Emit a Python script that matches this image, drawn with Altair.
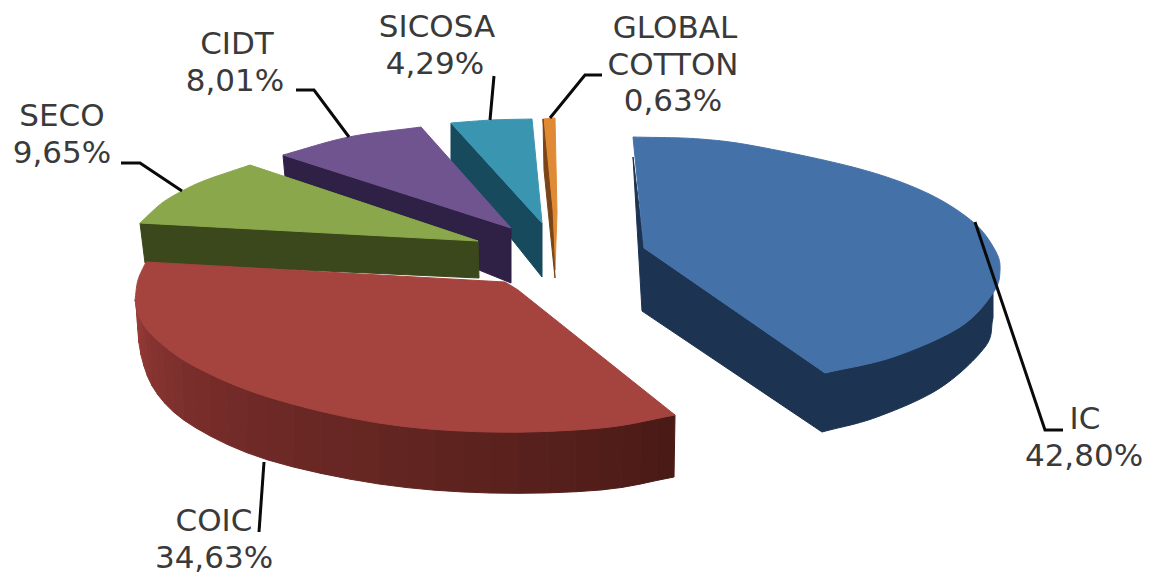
import altair as alt
import numpy as np
import pandas as pd

# ---- chart values ----
names = ["IC", "COIC", "SECO", "CIDT", "SICOSA", "GLOBAL COTTON"]
shares = [42.80, 34.63, 9.65, 8.01, 4.29, 0.63]

# ---- styles ----
TOP = {"IC": "#4472a8", "COIC": "#a5433f", "SECO": "#8aa84b", "CIDT": "#70548f",
       "SICOSA": "#3a95b0", "GLOBAL COTTON": "#e08a36"}
WALL = {"IC": "#1c3352", "SECO": "#3b481c", "CIDT": "#2f2045",
        "SICOSA": "#174a5c", "GLOBAL COTTON": "#7a4516"}
RED_WALL_STOPS = [(0.0, (74, 26, 22)), (0.45, (107, 40, 37)), (0.8, (138, 53, 50)), (1.0, (160, 64, 60))]
W, H = 1136, 558
xs = alt.Scale(domain=[8, 8 + W], range=[0, W])
ys = alt.Scale(domain=[8, 8 + H], range=[0, H])


def smooth(pts, n=14):
    """Catmull-Rom through the pts, so the rim reads as a curve."""
    p = np.array(pts, float)
    q = np.vstack([2 * p[0] - p[1], p, 2 * p[-1] - p[-2]])
    out = []
    for i in range(1, len(q) - 2):
        for t in np.linspace(0, 1, n, endpoint=False):
            out.append(0.5 * ((2 * q[i]) + (-q[i - 1] + q[i + 1]) * t
                              + (2 * q[i - 1] - 5 * q[i] + 4 * q[i + 1] - q[i + 2]) * t ** 2
                              + (-q[i - 1] + 3 * q[i] - 3 * q[i + 1] + q[i + 2]) * t ** 3))
    out.append(p[-1])
    return [tuple(a) for a in out]


def poly(pts, color):
    pts = list(pts) + [pts[0]]
    df = pd.DataFrame({"x": [a[0] for a in pts], "y": [a[1] for a in pts], "i": range(len(pts))})
    return alt.Chart(df).mark_line(fill=color, stroke=color, strokeWidth=1,
                                   interpolate="linear").encode(
        x=alt.X("x:Q", scale=xs, axis=None),
        y=alt.Y("y:Q", scale=ys, axis=None),
        order="i:Q")


def leader(pts):
    df = pd.DataFrame({"x": [a[0] for a in pts], "y": [a[1] for a in pts], "i": range(len(pts))})
    return alt.Chart(df).mark_line(color="#0a0a0a", strokeWidth=3).encode(
        x=alt.X("x:Q", scale=xs, axis=None),
        y=alt.Y("y:Q", scale=ys, axis=None),
        order="i:Q")


# ---- outlines ----
blue_rim = smooth([(633, 137), (700, 139), (760, 147), (860, 169), (927, 193), (973, 222), (995, 250),
                   (1000, 270), (993, 293), (960, 327), (893, 357), (825, 373)])
blue_low = smooth([(993, 318), (985, 347), (940, 388), (877, 417), (822, 432)])
blue_top = blue_rim + [(644, 248)]
blue_wall = [(633, 157), (644, 248), (825, 373)] + smooth([(825, 373), (893, 357), (960, 327), (993, 293)]) \
    + blue_low + [(642, 311)]

red_up = [(675, 415), (601, 428), (490, 432), (379, 423), (268, 397), (194, 366), (155, 338), (140, 318), (135, 300)]
red_lo = [(674, 477), (601, 490), (490, 493), (379, 484), (268, 460), (196, 428), (158, 395), (141, 355), (136, 303)]
red_up_s, red_lo_s = smooth(red_up, 8), smooth(red_lo, 8)
red_top = red_up_s + smooth([(135, 300), (138, 280), (146, 262)]) + [(505, 282), (518, 290)]

green_top = smooth([(140, 223), (162, 203), (184, 190), (206, 180), (250, 165)]) + [(478, 241)]
green_wall = [(140, 223), (478, 241), (479, 278), (145, 263)]

purple_top = smooth([(283, 155), (349, 137), (421, 127)]) + [(511, 228)]
purple_wall = [(283, 155), (511, 228), (511, 283), (479, 270), (285, 177)]

teal_top = smooth([(451, 123), (492, 120), (532, 119)]) + [(542, 223)]
teal_wall = [(451, 123), (542, 223), (542, 277), (451, 163)]

orange_wall = [(543, 119), (552, 210), (555, 278), (544, 170)]
orange_top = [(543, 119), (555, 118), (557, 213), (555, 270), (551, 205)]


def red_color(t):
    for (a, ca), (b, cb) in zip(RED_WALL_STOPS, RED_WALL_STOPS[1:]):
        if t <= b:
            f = (t - a) / (b - a)
            c = [round(ca[k] + (cb[k] - ca[k]) * f) for k in range(3)]
            return "#%02x%02x%02x" % tuple(c)
    return "#a0403c"


layers = [poly(teal_wall, WALL["SICOSA"]), poly(teal_top, TOP["SICOSA"]),
          poly(orange_top, TOP["GLOBAL COTTON"]), poly(orange_wall, WALL["GLOBAL COTTON"]),
          poly(blue_wall, WALL["IC"]), poly(blue_top, TOP["IC"]),
          poly(purple_wall, WALL["CIDT"]), poly(purple_top, TOP["CIDT"]),
          poly(green_wall, WALL["SECO"]), poly(green_top, TOP["SECO"])]

step = 2
for i in range(0, len(red_up_s) - step, step):
    quad = [red_up_s[i], red_up_s[i + step], red_lo_s[i + step], red_lo_s[i]]
    layers.append(poly(quad, red_color(i / (len(red_up_s) - 1))))
layers.append(poly(red_top, TOP["COIC"]))

# ---- leader lines ----
leaders = [[(975, 222), (1045, 430), (1063, 430)],
           [(264, 462), (259, 532)],
           [(121, 163), (140, 163), (182, 191)],
           [(296, 90), (314, 90), (349, 137)],
           [(494, 76), (490, 120)],
           [(602, 75), (585, 75), (550, 118)]]
layers += [leader(p) for p in leaders]

# ---- labels ----
pct = [("%.2f%%" % v).replace(".", ",") for v in shares]
label_text = ["IC", pct[0], "COIC", pct[1], "SECO", pct[2], "CIDT", pct[3],
              "SICOSA", pct[4], "GLOBAL", "COTTON", pct[5]]
label_x = [1085, 1084, 214, 214, 62, 62, 237, 235, 437, 435, 675, 673, 673]
label_y = [420, 457, 522, 559, 117, 154, 45, 82, 28, 65, 29, 66, 102]
labels = pd.DataFrame({"t": label_text, "x": label_x, "y": label_y})
layers.append(alt.Chart(labels).mark_text(font="DejaVu Sans", fontSize=31, color="#3a3a3a",
                                          align="center", baseline="middle").encode(
    x=alt.X("x:Q", scale=xs, axis=None),
    y=alt.Y("y:Q", scale=ys, axis=None),
    text="t:N"))

chart = alt.layer(*layers).properties(width=W, height=H, padding=0, background="white").configure_view(stroke=None)
chart.save("out.html", embed_options={"renderer": "svg", "actions": False})
